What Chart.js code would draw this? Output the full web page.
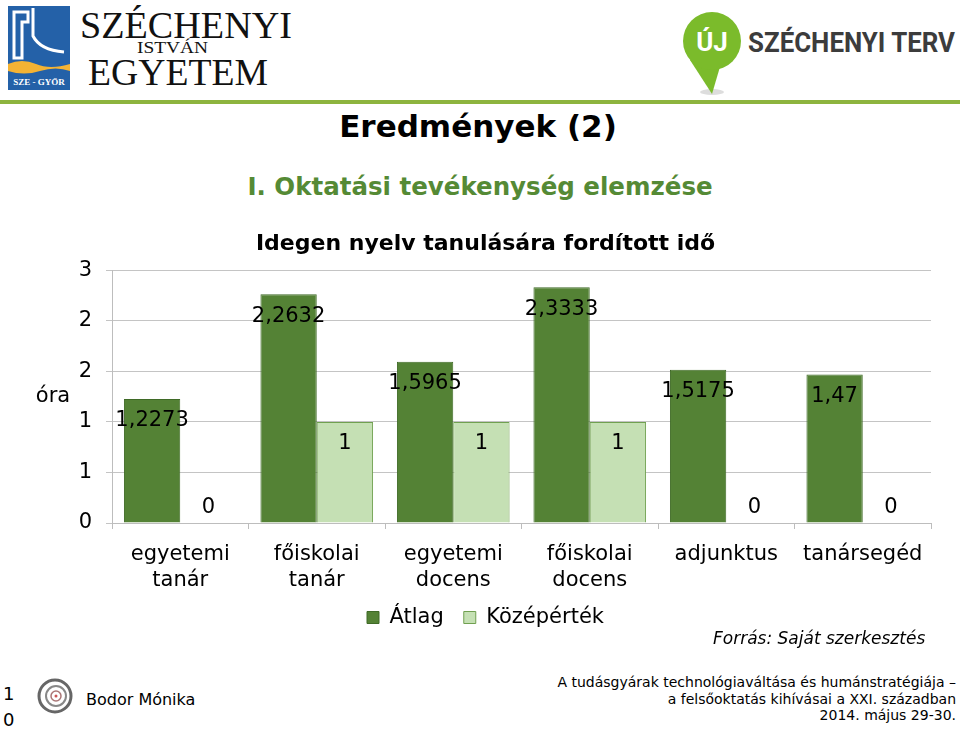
<!DOCTYPE html>
<html lang="hu">
<head>
<meta charset="utf-8">
<title>Eredmények (2)</title>
<script src="https://cdn.jsdelivr.net/npm/chart.js@4.4.0/dist/chart.umd.min.js"></script>
<style>
  html, body { margin: 0; padding: 0; background: #fff; }
  body { width: 960px; height: 730px; position: relative; overflow: hidden; font-family: "DejaVu Sans", Verdana, sans-serif; }
  .abs { position: absolute; }
  #title { left: 0; width: 956px; top: 108px; text-align: center; font-weight: bold; font-size: 31px; color: #000; }
  #subtitle { left: 0; width: 960px; top: 172px; text-align: center; font-weight: bold; font-size: 24.5px; color: #558a35; }
  #greenline { left: 0; top: 100px; width: 960px; height: 4px; background: #8db43e; }
  #chartBox { left: 0; top: 225px; width: 960px; height: 413px; }
  #forras { left: 713px; top: 628px; font-style: italic; font-size: 17px; color: #000; }
  #footerR { right: 4px; top: 674px; text-align: right; font-size: 14px; line-height: 16.5px; color: #000; }
  #author { left: 86px; top: 690px; font-size: 16px; color: #000; }
  #pagenum { left: 3px; top: 681px; font-size: 18px; line-height: 26px; color: #000; }
</style>
</head>
<body>

<!-- fejléc: egyetem logó -->
<svg class="abs" style="left:0;top:0" width="320" height="100">
  <rect x="8" y="6" width="62" height="84" fill="#2461a8"/>
  <path d="M14 12 L28 12 L28 22 L22 22 L22 58 L14 58 Z" fill="none" stroke="#fff" stroke-width="3"/>
  <path d="M33 8 L33 36 Q40 50 64 52" fill="none" stroke="#fff" stroke-width="3"/>
  <path d="M8 64 Q22 58 36 64 T70 64 L70 71 Q56 66 40 71 T8 71 Z" fill="#f4b334"/>
  <text x="39" y="85" text-anchor="middle" font-family="Liberation Serif" font-weight="bold" font-size="9" fill="#fff">SZE - GYŐR</text>
  <text x="80" y="38" font-family="Liberation Serif" font-size="38" fill="#111" textLength="212" lengthAdjust="spacingAndGlyphs">SZÉCHENYI</text>
  <text x="137" y="53" font-family="Liberation Serif" font-size="16" fill="#111" textLength="71" lengthAdjust="spacingAndGlyphs">ISTVÁN</text>
  <text x="88" y="85" font-family="Liberation Serif" font-size="38" fill="#111" textLength="180" lengthAdjust="spacingAndGlyphs">EGYETEM</text>
</svg>

<!-- fejléc: Új Széchenyi Terv logó -->
<svg class="abs" style="left:660px;top:0" width="300" height="100">
  <ellipse cx="52" cy="92" rx="12" ry="3" fill="#ddd"/>
  <path d="M30 60 L52 94 L62 60 Z" fill="#7bbb2b"/>
  <circle cx="52" cy="41" r="29" fill="#7bbb2b"/>
  <text x="52" y="51" text-anchor="middle" font-family="Roboto" font-weight="bold" font-size="26" fill="#fff">ÚJ</text>
  <text x="88" y="52" font-family="Roboto" font-weight="bold" font-size="27" fill="#3c3c3c" textLength="207" lengthAdjust="spacingAndGlyphs">SZÉCHENYI TERV</text>
</svg>
<div id="greenline" class="abs"></div>

<div id="title" class="abs">Eredmények (2)</div>
<div id="subtitle" class="abs">I. Oktatási tevékenység elemzése</div>

<div id="chartBox" class="abs"><canvas id="chart"></canvas></div>

<div id="forras" class="abs">Forrás: Saját szerkesztés</div>

<!-- lábléc -->
<div id="pagenum" class="abs">1<br>0</div>
<svg class="abs" style="left:34px;top:676px" width="44" height="40">
  <circle cx="21" cy="20" r="16" fill="none" stroke="#666" stroke-width="3"/>
  <circle cx="22" cy="20" r="10" fill="none" stroke="#888" stroke-width="2"/>
  <circle cx="22" cy="20" r="5" fill="none" stroke="#a77" stroke-width="1.5"/>
  <circle cx="22" cy="20" r="1.5" fill="#c55"/>
</svg>
<div id="author" class="abs">Bodor Mónika</div>
<div id="footerR" class="abs">A tudásgyárak technológiaváltása és humánstratégiája –<br>a felsőoktatás kihívásai a XXI. században<br>2014. május 29-30.</div>

<script>
// --- Adatok ---
const categories = [
  ['egyetemi', 'tanár'],
  ['főiskolai', 'tanár'],
  ['egyetemi', 'docens'],
  ['főiskolai', 'docens'],
  'adjunktus',
  'tanársegéd'
];
const atlag = [1.2273, 2.2632, 1.5965, 2.3333, 1.5175, 1.47];
const kozepertek = [0, 1, 1, 1, 0, 0];

const FONT = '"DejaVu Sans", Verdana, sans-serif';

// Adatcímkék (Excel "belső vég" stílus)
const valueLabels = {
  id: 'valueLabels',
  afterDatasetsDraw(chart) {
    const ctx = chart.ctx;
    ctx.save();
    ctx.font = '21px ' + FONT;
    ctx.fillStyle = '#000';
    ctx.textAlign = 'center';
    ctx.textBaseline = 'middle';
    chart.data.datasets.forEach((ds, i) => {
      chart.getDatasetMeta(i).data.forEach((bar, j) => {
        const v = ds.data[j];
        const y = v === 0 ? bar.base - 15 : bar.y + 22;
        ctx.fillText(String(v).replace('.', ','), bar.x, y);
      });
    });
    ctx.restore();
  }
};

// "óra" tengelycím vízszintesen
const axisLabel = {
  id: 'axisLabel',
  afterDraw(chart) {
    const ctx = chart.ctx;
    const y = chart.scales.y.getPixelForValue(1.25);
    ctx.save();
    ctx.font = '21px ' + FONT;
    ctx.fillStyle = '#000';
    ctx.textAlign = 'center';
    ctx.textBaseline = 'middle';
    ctx.fillText('óra', 53, y);
    ctx.restore();
  }
};

new Chart(document.getElementById('chart'), {
  type: 'bar',
  data: {
    labels: categories,
    datasets: [
      {
        label: 'Átlag',
        data: atlag,
        backgroundColor: '#548235',
        borderColor: '#3f6a27',
        borderWidth: 1,
        categoryPercentage: 0.825,
        barPercentage: 1
      },
      {
        label: 'Középérték',
        data: kozepertek,
        backgroundColor: '#c5e0b4',
        borderColor: '#70a050',
        borderWidth: 1,
        categoryPercentage: 0.825,
        barPercentage: 1
      }
    ]
  },
  options: {
    responsive: true,
    maintainAspectRatio: false,
    animation: false,
    layout: { padding: { left: 40, right: 29, top: 0, bottom: 0 } },
    plugins: {
      title: {
        display: true,
        text: 'Idegen nyelv tanulására fordított idő',
        color: '#000',
        font: { family: FONT, size: 22, weight: 'bold' },
        padding: { top: 6, bottom: 13 }
      },
      legend: {
        position: 'bottom',
        labels: {
          color: '#000',
          font: { family: FONT, size: 21 },
          boxWidth: 12,
          boxHeight: 12,
          padding: 20
        }
      },
      tooltip: { enabled: false }
    },
    scales: {
      x: {
        afterFit(scale) { scale.height = 64; },
        grid: { display: true, drawOnChartArea: false, offset: true, tickLength: 6, color: '#bdbdbd' },
        border: { color: '#bdbdbd' },
        ticks: { color: '#000', font: { family: FONT, size: 21, lineHeight: 1.25 }, padding: 12, maxRotation: 0 }
      },
      y: {
        min: 0,
        max: 2.5,
        afterFit(scale) { scale.width = 72; },
        grid: { color: '#c4c4c4', tickLength: 6 },
        border: { color: '#bdbdbd' },
        ticks: {
          stepSize: 0.5,
          color: '#000',
          font: { family: FONT, size: 21 },
          padding: 14,
          callback: v => Math.round(v)
        }
      }
    }
  },
  plugins: [valueLabels, axisLabel]
});
</script>
</body>
</html>
